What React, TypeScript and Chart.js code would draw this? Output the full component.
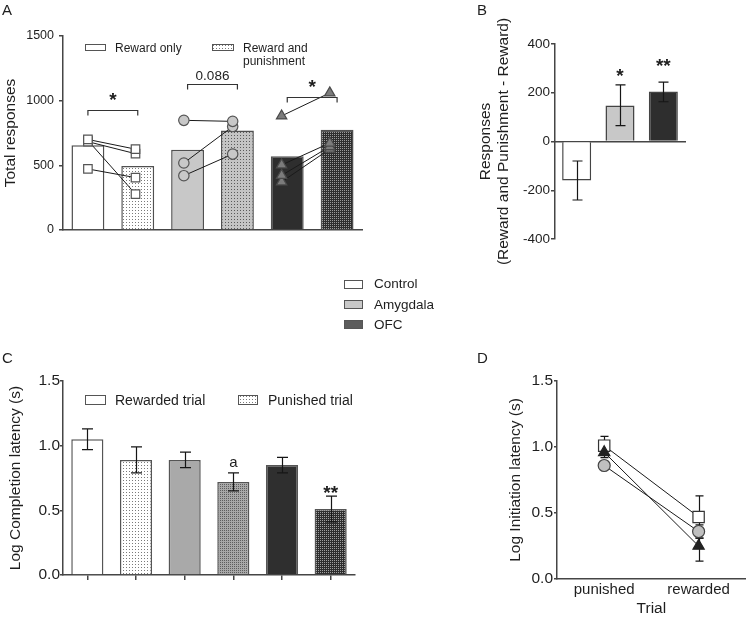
import React, { useEffect, useRef } from 'react';
import { Chart, registerables } from 'chart.js';

Chart.register(...registerables);

const FONT = '"Liberation Sans", Arial, Helvetica, sans-serif';
const AXIS = '#454545';
const INK = '#1e1e1e';

// ---------- Panel A : total responses ----------
const aBarLabels = ['Control · Reward only', 'Control · Reward and punishment', 'Amygdala · Reward only', 'Amygdala · Reward and punishment', 'OFC · Reward only', 'OFC · Reward and punishment'];
const aBarMeans = [655, 495, 620, 770, 570, 775];
const aControlReward = [700, 683, 692, 472];
const aControlPunish = [625, 590, 278, 405];
const aAmygdalaReward = [848, 518, 420];
const aAmygdalaPunish = [840, 800, 587];
const aOfcReward = [882, 503, 422, 372];
const aOfcPunish = [1060, 672, 645, 626];
const aBracketLevels = [930, 1130, 1025];
const aBracketLabels = ['*', '0.086', '*'];
const aYTicks = [0, 500, 1000, 1500];

// ---------- Panel B : difference ----------
const bGroups = ['Control', 'Amygdala', 'OFC'];
const bDiff = [-160, 148, 205];
const bErrLow = [-240, 65, 163];
const bErrHigh = [-80, 232, 244];
const bSigLabels = ['', '*', '**'];
const bSigLevels = [0, 288, 329];
const bYTicks = [-400, -200, 0, 200, 400];

// ---------- Panel C : completion latency ----------
const cBarLabels = ['Control · Rewarded', 'Control · Punished', 'Amygdala · Rewarded', 'Amygdala · Punished', 'OFC · Rewarded', 'OFC · Punished'];
const cMeans = [1.05, 0.89, 0.89, 0.72, 0.85, 0.51];
const cErrLow = [0.97, 0.79, 0.83, 0.65, 0.79, 0.41];
const cErrHigh = [1.13, 0.99, 0.95, 0.79, 0.91, 0.61];
const cSigLabels = ['', '', '', 'a', '', '**'];
const cSigLevels = [0, 0, 0, 0.866, 0, 0.675];
const cYTicks = [0, 0.5, 1, 1.5];

// ---------- Panel D : initiation latency ----------
const dTrials = ['punished', 'rewarded'];
const dControl = [1.01, 0.47];
const dControlErr = [0.07, 0.16];
const dAmygdala = [0.86, 0.36];
const dAmygdalaErr = [0.03, 0.05];
const dOfc = [0.96, 0.25];
const dOfcErr = [0.04, 0.115];
const dYTicks = [0, 0.5, 1, 1.5];

const groupLegend = ['Control', 'Amygdala', 'OFC'];
const groupLegendColors = ['#ffffff', '#c8c8c8', '#5c5c5c'];

function makePattern(base: string, dot: string, period: number): any {
  const c = document.createElement('canvas');
  c.width = period;
  c.height = period;
  const g = c.getContext('2d');
  if (!g) return base;
  g.fillStyle = base;
  g.fillRect(0, 0, period, period);
  g.fillStyle = dot;
  g.fillRect(0, 0, 1, 1);
  return g.createPattern(c, 'repeat') || base;
}

function drawCentered(ctx: CanvasRenderingContext2D, text: string, x: number, cy: number, size: number, bold: boolean) {
  ctx.save();
  ctx.font = `${bold ? 'bold ' : ''}${size}px ${FONT}`;
  ctx.fillStyle = INK;
  ctx.textAlign = 'center';
  ctx.textBaseline = 'alphabetic';
  const k = text.includes('*') ? 0.57 : /^[a-z]+$/.test(text) ? 0.26 : 0.36;
  ctx.fillText(text, x, cy + k * size);
  ctx.restore();
}

function drawErr(ctx: CanvasRenderingContext2D, x: number, yA: number, yB: number, cap: number) {
  ctx.save();
  ctx.strokeStyle = '#161616';
  ctx.lineWidth = 1.2;
  const cx = Math.round(x) + 0.5;
  ctx.beginPath();
  ctx.moveTo(cx, yA);
  ctx.lineTo(cx, yB);
  ctx.moveTo(cx - cap / 2, yA);
  ctx.lineTo(cx + cap / 2, yA);
  ctx.moveTo(cx - cap / 2, yB);
  ctx.lineTo(cx + cap / 2, yB);
  ctx.stroke();
  ctx.restore();
}

function legendBox(ctx: CanvasRenderingContext2D, x: number, y: number, w: number, h: number, fill: any) {
  ctx.save();
  ctx.fillStyle = fill;
  ctx.fillRect(x, y, w, h);
  ctx.strokeStyle = '#555';
  ctx.lineWidth = 1;
  ctx.strokeRect(x + 0.5, y + 0.5, w, h);
  ctx.restore();
}

function legendText(ctx: CanvasRenderingContext2D, text: string, x: number, baseline: number, size: number) {
  ctx.save();
  ctx.font = `${size}px ${FONT}`;
  ctx.fillStyle = INK;
  ctx.textAlign = 'left';
  ctx.textBaseline = 'alphabetic';
  ctx.fillText(text, x, baseline);
  ctx.restore();
}

function yScale(o: any) {
  return {
    min: o.min,
    max: o.max,
    afterBuildTicks: (s: any) => {
      s.ticks = o.ticks.map((v: number) => ({ value: v }));
    },
    afterFit: (s: any) => {
      s.width = o.width;
    },
    ticks: {
      callback: (v: any) => o.fmt(Number(v)),
      font: { family: FONT, size: o.size },
      color: INK,
      padding: o.pad,
      autoSkip: false,
    },
    grid: { drawOnChartArea: false, drawTicks: true, tickLength: o.tickLen, color: AXIS, lineWidth: 1.5 },
    border: { display: true, color: AXIS, width: 1.5 },
    title: {
      display: true,
      text: o.title,
      color: INK,
      font: { family: FONT, size: o.titleSize, lineHeight: o.lineHeight || 1.2 },
      padding: { top: o.titlePad, bottom: 0 },
    },
  };
}

const baseOptions = {
  responsive: false,
  maintainAspectRatio: false,
  animation: false,
  events: [],
  plugins: { legend: { display: false }, tooltip: { enabled: false } },
};

function configA(pat: any): any {
  const groups = [
    { rw: aControlReward, pu: aControlPunish, style: 'rect', r: 6, bg: '#ffffff', bd: '#555555' },
    { rw: aAmygdalaReward, pu: aAmygdalaPunish, style: 'circle', r: 5.2, bg: '#c8c8c8', bd: '#555555' },
    { rw: aOfcReward, pu: aOfcPunish, style: 'triangle', r: 6, bg: '#7c7c7c', bd: '#4a4a4a' },
  ];
  const nudge = [0, -0.045, -0.075, -0.095, -0.113, -0.147];
  const lines: any[] = [];
  groups.forEach((g, gi) =>
    g.rw.forEach((v, i) =>
      lines.push({
        type: 'line',
        xAxisID: 'xp',
        yAxisID: 'y',
        data: [
          { x: 2 * gi + nudge[2 * gi], y: v },
          { x: 2 * gi + 1 + nudge[2 * gi + 1], y: g.pu[i] },
        ],
        borderColor: '#1a1a1a',
        borderWidth: 1,
        pointStyle: g.style,
        pointRadius: g.r,
        pointBackgroundColor: g.bg,
        pointBorderColor: g.bd,
        pointBorderWidth: 1.2,
        fill: false,
        order: 0,
        clip: false,
      })
    )
  );
  const plugin = {
    id: 'panelA',
    afterDatasetsDraw(chart: any) {
      const ctx = chart.ctx;
      const x = chart.scales.x;
      const y = chart.scales.y;
      ctx.save();
      ctx.strokeStyle = '#333';
      ctx.lineWidth = 1.2;
      aBracketLevels.forEach((lv, i) => {
        const x1 = x.getPixelForValue(2 * i);
        const x2 = x.getPixelForValue(2 * i + 1);
        const py = Math.round(y.getPixelForValue(lv)) + 0.5;
        ctx.beginPath();
        ctx.moveTo(x1, py + 5);
        ctx.lineTo(x1, py);
        ctx.lineTo(x2, py);
        ctx.lineTo(x2, py + 5);
        ctx.stroke();
        const t = aBracketLabels[i];
        const star = t.includes('*');
        drawCentered(ctx, t, (x1 + x2) / 2, py - (star ? 15 : 9), star ? 19 : 13.5, star);
      });
      ctx.restore();
      legendBox(ctx, 85, 44, 20, 6, '#ffffff');
      legendText(ctx, 'Reward only', 115, 52, 12);
      legendBox(ctx, 212, 44, 21, 6, pat.light);
      legendText(ctx, 'Reward and', 243, 52, 12);
      legendText(ctx, 'punishment', 243, 65, 12);
    },
  };
  return {
    type: 'bar',
    data: {
      labels: aBarLabels,
      datasets: [
        {
          type: 'bar',
          data: aBarMeans,
          xAxisID: 'x',
          yAxisID: 'y',
          backgroundColor: ['#ffffff', pat.light, '#c8c8c8', pat.mid, '#2e2e2e', pat.dark],
          borderColor: '#505050',
          borderWidth: 1.5,
          barPercentage: 0.66,
          categoryPercentage: 1,
          grouped: false,
          order: 10,
        },
        ...lines,
      ],
    },
    options: {
      ...baseOptions,
      layout: { padding: { left: 0, top: 36, right: 18, bottom: 0 } },
      scales: {
        x: {
          type: 'category',
          grid: { display: false },
          ticks: { display: false },
          border: { display: true, color: AXIS, width: 1.5 },
          afterFit: (s: any) => {
            s.height = 20;
          },
        },
        xp: {
          type: 'linear',
          axis: 'x',
          position: 'bottom',
          min: -0.5,
          max: 5.5,
          offset: false,
          display: false,
          grid: { offset: false },
        },
        y: yScale({
          min: 0, max: 1500, ticks: aYTicks, fmt: (v: number) => String(v), size: 12.5, pad: 5, tickLen: 4,
          width: 63, title: 'Total responses', titleSize: 15.5, titlePad: 1,
        }),
      },
    },
    plugins: [plugin],
  };
}

function configB(): any {
  const plugin = {
    id: 'panelB',
    afterDatasetsDraw(chart: any) {
      const ctx = chart.ctx;
      const x = chart.scales.x;
      const y = chart.scales.y;
      bDiff.forEach((_, i) => {
        const px = x.getPixelForValue(i);
        drawErr(ctx, px, y.getPixelForValue(bErrLow[i]), y.getPixelForValue(bErrHigh[i]), 10);
        if (bSigLabels[i]) drawCentered(ctx, bSigLabels[i], px, y.getPixelForValue(bSigLevels[i]), 19, true);
      });
    },
  };
  return {
    type: 'bar',
    data: {
      labels: bGroups,
      datasets: [
        {
          data: bDiff,
          backgroundColor: ['#ffffff', '#c8c8c8', '#2e2e2e'],
          borderColor: '#444444',
          borderWidth: 1.5,
          barPercentage: 0.67,
          categoryPercentage: 1,
        },
      ],
    },
    options: {
      ...baseOptions,
      layout: { padding: { left: 0, top: 44, right: 70, bottom: 41 } },
      scales: {
        x: {
          type: 'category',
          position: { y: 0 },
          grid: { display: false },
          ticks: { display: false },
          border: { display: true, color: AXIS, width: 1.5 },
        },
        y: yScale({
          min: -400, max: 400, ticks: bYTicks, fmt: (v: number) => String(v), size: 13.5, pad: 1, tickLen: 4,
          width: 135, title: ['Responses', '(Reward and Punishment - Reward)'], titleSize: 15.5, titlePad: 56.5, lineHeight: 1.16,
        }),
      },
    },
    plugins: [plugin],
  };
}

function configC(pat: any): any {
  const plugin = {
    id: 'panelC',
    afterDatasetsDraw(chart: any) {
      const ctx = chart.ctx;
      const x = chart.scales.x;
      const y = chart.scales.y;
      cMeans.forEach((_, i) => {
        const px = x.getPixelForValue(i);
        drawErr(ctx, px, y.getPixelForValue(cErrLow[i]), y.getPixelForValue(cErrHigh[i]), 11);
        const t = cSigLabels[i];
        if (t) drawCentered(ctx, t, px, y.getPixelForValue(cSigLevels[i]), t.includes('*') ? 19 : 15, t.includes('*'));
      });
      legendBox(ctx, 85, 35, 20, 9, '#ffffff');
      legendText(ctx, 'Rewarded trial', 115, 45, 14);
      legendBox(ctx, 238, 35, 19, 9, pat.light);
      legendText(ctx, 'Punished trial', 268, 45, 14);
    },
  };
  return {
    type: 'bar',
    data: {
      labels: cBarLabels,
      datasets: [
        {
          data: cMeans,
          backgroundColor: ['#ffffff', pat.light, '#a9a9a9', pat.cmid, '#2f2f2f', pat.cdark],
          borderColor: '#555555',
          borderWidth: 1.5,
          barPercentage: 0.66,
          categoryPercentage: 1,
        },
      ],
    },
    options: {
      ...baseOptions,
      layout: { padding: { left: 0, top: 21, right: 25, bottom: 0 } },
      scales: {
        x: {
          type: 'category',
          grid: { display: true, drawOnChartArea: false, drawTicks: true, tickLength: 5, offset: false, color: AXIS, lineWidth: 1.5 },
          ticks: { display: false },
          border: { display: true, color: AXIS, width: 1.5 },
          afterFit: (s: any) => {
            s.height = 43;
          },
        },
        y: yScale({
          min: 0, max: 1.5, ticks: cYTicks, fmt: (v: number) => v.toFixed(1), size: 15.5, pad: 0, tickLen: 3,
          width: 63, title: 'Log Completion latency (s)', titleSize: 15.5, titlePad: 6,
        }),
      },
    },
    plugins: [plugin],
  };
}

function configD(): any {
  const series = [
    { v: dControl, e: dControlErr },
    { v: dAmygdala, e: dAmygdalaErr },
    { v: dOfc, e: dOfcErr },
  ];
  const plugin = {
    id: 'panelD',
    beforeDatasetsDraw(chart: any) {
      const ctx = chart.ctx;
      const x = chart.scales.x;
      const y = chart.scales.y;
      series.forEach((s) =>
        s.v.forEach((v, i) => {
          const px = x.getPixelForValue(i);
          drawErr(ctx, px, y.getPixelForValue(v - s.e[i]), y.getPixelForValue(v + s.e[i]), 8);
        })
      );
    },
  };
  const common = { borderColor: '#1a1a1a', borderWidth: 1, pointBorderWidth: 1.2, fill: false, clip: false };
  return {
    type: 'line',
    data: {
      labels: dTrials,
      datasets: [
        { ...common, label: groupLegend[0], data: dControl, pointStyle: 'rect', pointRadius: 8, pointBackgroundColor: '#ffffff', pointBorderColor: '#333333', order: 2 },
        { ...common, label: groupLegend[1], data: dAmygdala, pointStyle: 'circle', pointRadius: 6, pointBackgroundColor: '#c0c0c0', pointBorderColor: '#444444', order: 0 },
        { ...common, label: groupLegend[2], data: dOfc, pointStyle: 'triangle', pointRadius: 6.5, pointBackgroundColor: '#222222', pointBorderColor: '#222222', order: 1 },
      ],
    },
    options: {
      ...baseOptions,
      layout: { padding: { left: 0, top: 21, right: 2, bottom: 0 } },
      scales: {
        x: {
          type: 'category',
          offset: true,
          grid: { display: false, drawTicks: false },
          border: { display: true, color: AXIS, width: 1.5 },
          ticks: { font: { family: FONT, size: 15 }, color: INK, padding: 2 },
          title: { display: true, text: 'Trial', color: INK, font: { family: FONT, size: 15.5 }, padding: { top: 0, bottom: 0 } },
          afterFit: (s: any) => {
            s.height = 39;
          },
        },
        y: yScale({
          min: 0, max: 1.5, ticks: dYTicks, fmt: (v: number) => v.toFixed(1), size: 15.5, pad: 1, tickLen: 3,
          width: 137, title: 'Log Initiation latency (s)', titleSize: 15.5, titlePad: 86,
        }),
      },
    },
    plugins: [plugin],
  };
}

const canvasStyle = (left: number, top: number, w: number, h: number): React.CSSProperties => ({
  position: 'absolute', left, top, width: w, height: h, display: 'block',
});

export default function App() {
  const refA = useRef<HTMLCanvasElement>(null);
  const refB = useRef<HTMLCanvasElement>(null);
  const refC = useRef<HTMLCanvasElement>(null);
  const refD = useRef<HTMLCanvasElement>(null);

  useEffect(() => {
    Chart.defaults.font.family = FONT;
    const pat = {
      light: makePattern('#ffffff', '#7a7a7a', 3),
      mid: makePattern('#c4c4c4', '#5a5a5a', 3),
      dark: makePattern('#2e2e2e', '#9a9a9a', 2),
      cmid: makePattern('#a8a8a8', '#5e5e5e', 2),
      cdark: makePattern('#2e2e2e', '#a0a0a0', 2),
    };
    const charts = [
      new Chart(refA.current as HTMLCanvasElement, configA(pat)),
      new Chart(refB.current as HTMLCanvasElement, configB()),
      new Chart(refC.current as HTMLCanvasElement, configC(pat)),
      new Chart(refD.current as HTMLCanvasElement, configD()),
    ];
    return () => charts.forEach((c) => c.destroy());
  }, []);

  const letter = (t: string, left: number, top: number) => (
    <div style={{ position: 'absolute', left, top, fontSize: 15, lineHeight: '15px' }}>{t}</div>
  );

  return (
    <div style={{ position: 'fixed', left: 0, top: 0, width: 755, height: 618, background: '#fff', overflow: 'hidden', fontFamily: FONT, color: INK }}>
      <canvas ref={refA} width={380} height={250} style={canvasStyle(0, 0, 380, 250)} />
      <canvas ref={refB} width={335} height={280} style={canvasStyle(420, 0, 335, 280)} />
      <canvas ref={refC} width={380} height={258} style={canvasStyle(0, 360, 380, 258)} />
      <canvas ref={refD} width={335} height={258} style={canvasStyle(420, 360, 335, 258)} />
      {letter('A', 2, 2)}
      {letter('B', 477, 2)}
      {letter('C', 2, 350)}
      {letter('D', 477, 350)}
      {groupLegend.map((g, i) => (
        <React.Fragment key={g}>
          <div style={{ position: 'absolute', left: 344, top: 280 + i * 20, width: 19, height: 9, boxSizing: 'border-box', border: '1px solid #555', background: groupLegendColors[i] }} />
          <div style={{ position: 'absolute', left: 374, top: 276 + i * 20.5, fontSize: 13.5, lineHeight: '16px', whiteSpace: 'nowrap' }}>{g}</div>
        </React.Fragment>
      ))}
    </div>
  );
}
